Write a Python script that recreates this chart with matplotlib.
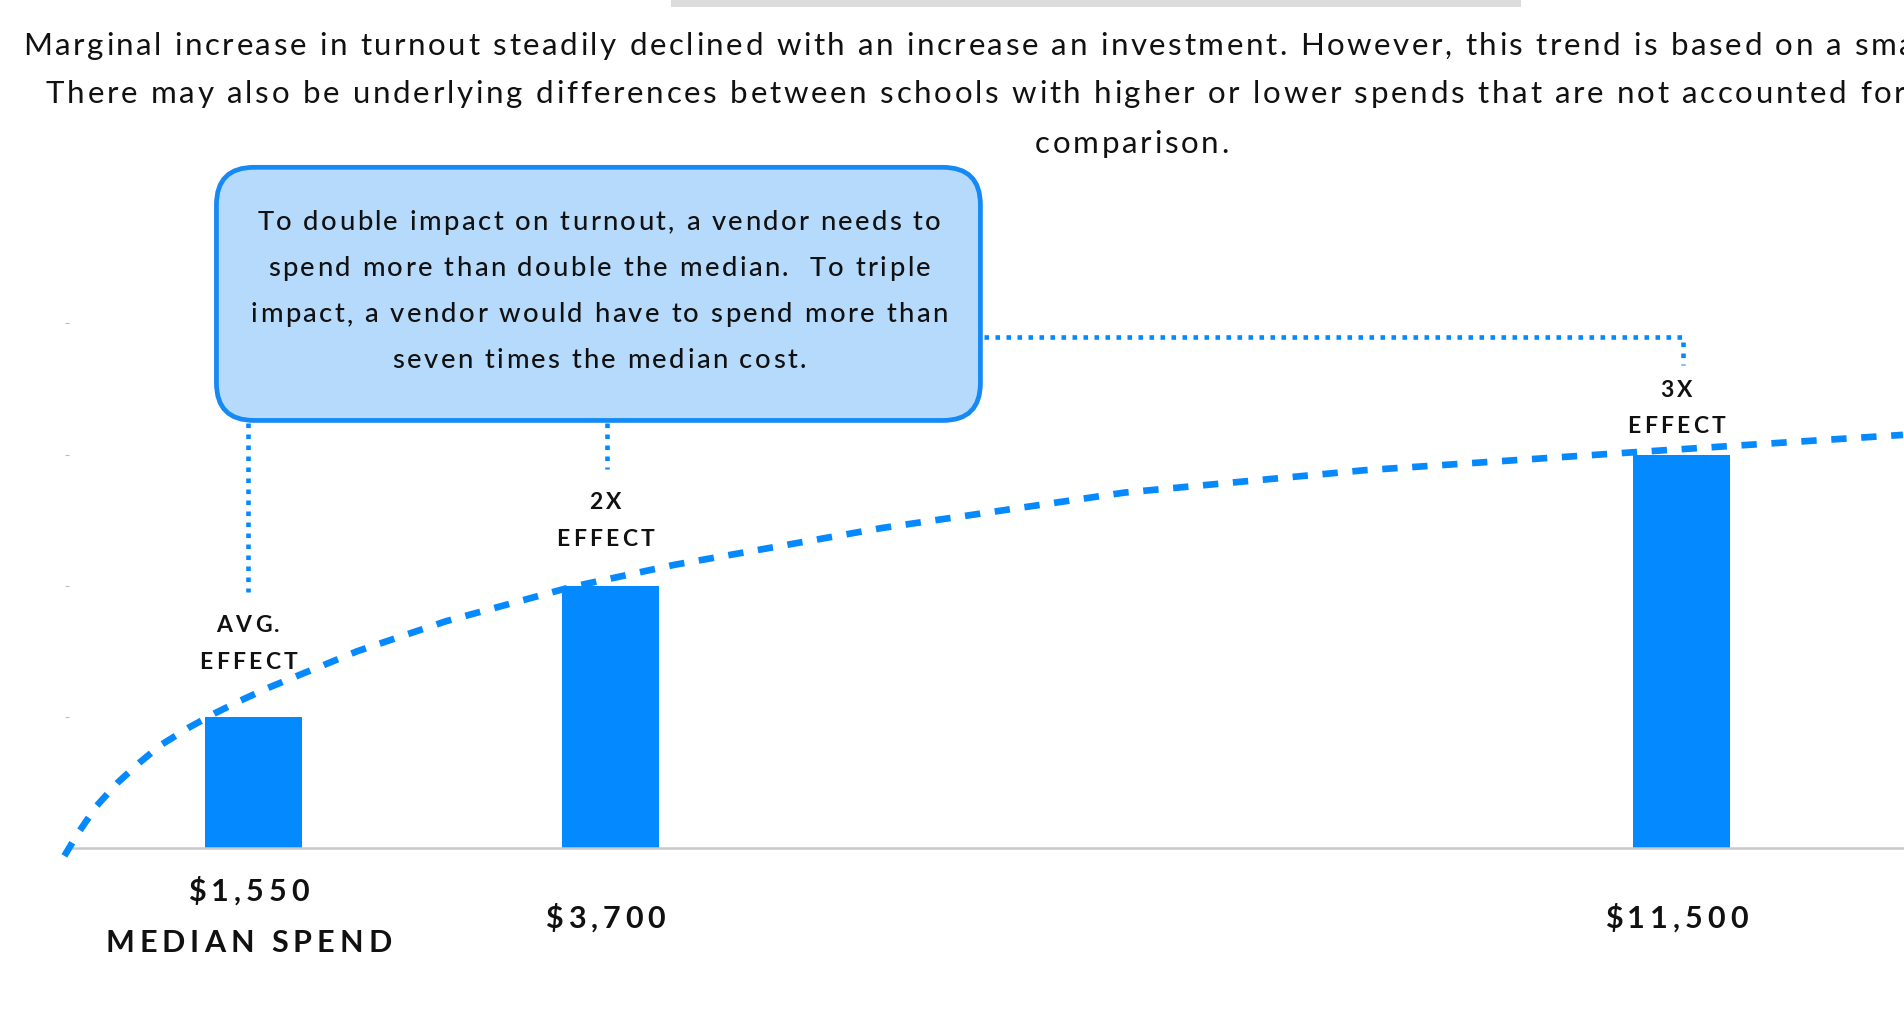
import numpy as np
import matplotlib
matplotlib.use('Agg')
import matplotlib.pyplot as plt
from matplotlib.patches import FancyBboxPatch, Rectangle
from matplotlib.font_manager import FontProperties
from matplotlib.transforms import IdentityTransform

# Data
spend_labels = ['$1,550\nMEDIAN SPEND', '$3,700', '$11,500']
bar_pos = [0, 1, 4]
effect = [1.0, 2.0, 3.0]
effect_labels = ['AVG.\nEFFECT', '2X\nEFFECT', '3X\nEFFECT']

# dashed trend line (category position, effect)
trend_x = [-0.53, -0.49, -0.44, -0.38, -0.32, -0.26, -0.18, -0.11, -0.04, 0.04, 0.12, 0.21,
           0.29, 0.54, 0.89, 1.18, 1.76, 2.44, 3.11, 3.88, 4.62]
trend_y = [-0.06, 0.12, 0.32, 0.50, 0.65, 0.785, 0.92, 1.025, 1.12, 1.22, 1.31, 1.41,
           1.50, 1.73, 1.99, 2.16, 2.44, 2.71, 2.88, 3.02, 3.15]

subtitle_1 = ("Marginal increase in turnout steadily declined with an increase an investment. "
              "However, this trend is based on a small sample of schools.")
subtitle_2 = ("There may also be underlying differences between schools with higher or lower "
              "spends that are not accounted for in this")
subtitle_3 = "comparison."
callout = ("To double impact on turnout, a vendor needs to\n"
           "spend more than double the median.  To triple\n"
           "impact, a vendor would have to spend more than\n"
           "seven times the median cost.")

BLUE = '#0589FF'
LIGHT = '#B6DAFC'
INK = '#111111'
FONT = ['Lato', 'DejaVu Sans']

W, H = 1904, 1016
fig = plt.figure(figsize=(W / 100, H / 100), dpi=100)
renderer = fig.canvas.get_renderer()


def text_w(s, fp):
    return renderer.get_text_width_height_descent(s, fp, ismath=False)[0]


def tracked(x, y, s, size, track, transform, weight='normal', lead=40, ha='center'):
    # letter-spaced text: each glyph placed by hand, (x, y) is the visual centre of the block
    fp = FontProperties(family=FONT, weight=weight, size=size)
    em = size * 100 / 72
    px, py = transform.transform((x, y))
    lines = s.split('\n')
    n = len(lines)
    bars = text_w('||', fp)
    for k, line in enumerate(lines):
        base = py + ((n - 1) / 2 - k) * lead - 0.36 * em
        adv = [text_w('|' + c + '|', fp) - bars for c in line]
        total = sum(adv) + track * (len(line) - 1)
        cx = px - total / 2 if ha == 'center' else px
        for c, a in zip(line, adv):
            if c != ' ' and cx < W - 2:   # the rest runs off the page, as in the original
                fig.text(cx, base, c, transform=IdentityTransform(), fontproperties=fp,
                         ha='left', va='baseline', color=INK, zorder=6)
            cx += a + track


# axes geometry (pixels): unit x = 357 px, unit y = 131 px, baseline at y=848
x0, x1 = -0.517, 5.5
ax = fig.add_axes([69 / W, 1 - 848 / H, (x1 - x0) * 357 / W, 4 * 131.15 / H])
ax.set_xlim(x0, x1)
ax.set_ylim(0, 4)

ax.bar(bar_pos, effect, width=0.27, color=BLUE, zorder=2)
ax.plot(trend_x, trend_y, color=BLUE, lw=4.8, dashes=(2.3, 2.2), dash_capstyle='butt',
        solid_joinstyle='round', clip_on=False, zorder=3)

# spines / ticks
for s in ['top', 'right', 'left']:
    ax.spines[s].set_visible(False)
ax.spines['bottom'].set_color('#C8C8C8')
ax.spines['bottom'].set_linewidth(1.8)
ax.set_yticks([1, 2, 3, 4])
ax.set_yticklabels([])
ax.tick_params(axis='y', length=3, width=0.8, color='#BBBBBB')
ax.set_xticks(bar_pos)
ax.set_xticklabels([])
ax.tick_params(axis='x', length=0)

# spend labels under the bars, effect labels above them
spend_y = [-0.515, -0.526, -0.526]
for xp, ly, txt in zip(bar_pos, spend_y, spend_labels):
    tracked(xp - 0.015, ly, txt, 22, 5.0, ax.transData, weight='bold', lead=51)
label_y = [1.568, 2.508, 3.364]
for xp, ly, txt in zip(bar_pos, label_y, effect_labels):
    tracked(xp - 0.015, ly, txt, 16.5, 3.2, ax.transData, weight='bold', lead=36.6)

# callout box
box = FancyBboxPatch((-0.104, 3.26), 2.14, 1.93,
                     boxstyle='round,pad=0,rounding_size=0.105',
                     mutation_aspect=357 / 131.15,
                     fc=LIGHT, ec='#1589F5', lw=3.4, clip_on=False, zorder=4)
ax.add_patch(box)
tracked(0.968, 4.262, callout, 19.7, 2.4, ax.transData, weight='medium', lead=46.1)

# dotted connectors
dot = dict(color=BLUE, lw=3.3, dashes=(1.0, 1.4), dash_capstyle='butt', clip_on=False, zorder=3)
ax.plot([-0.015, -0.015], [3.24, 1.954], **dot)
ax.plot([0.991, 0.991], [3.24, 2.889], **dot)
ax.plot([2.045, 4.005, 4.005], [3.898, 3.898, 3.685], **dot)

# header
fig.add_artist(Rectangle((671 / W, 1 - 7 / H), 850 / W, 7 / H, transform=fig.transFigure,
                         color='#DCDCDC', lw=0))
tracked(23, H - 44, subtitle_1, 22.5, 2.6, IdentityTransform(), ha='left')
tracked(46, H - 92, subtitle_2, 22.5, 2.7, IdentityTransform(), ha='left')
tracked(1132, H - 142, subtitle_3, 22.5, 2.7, IdentityTransform())

fig.savefig('out.png', dpi=100)
